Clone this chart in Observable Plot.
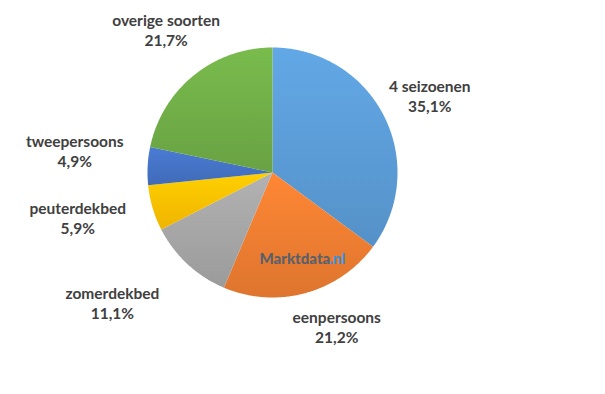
<!DOCTYPE html>
<html><head><meta charset="utf-8">
<script src="https://cdn.jsdelivr.net/npm/d3@7"></script>
<script src="https://cdn.jsdelivr.net/npm/@observablehq/plot@0.6"></script>
<style>
html,body{margin:0;padding:0;background:#fff;}
#chart{width:605px;height:394px;}
</style></head>
<body><div id="chart"></div>
<script>
const categories = ["4 seizoenen","eenpersoons","zomerdekbed","peuterdekbed","tweepersoons","overige soorten"];
const values = [35.1, 21.2, 11.1, 5.9, 4.9, 21.7];
const valueLabels = ["35,1%","21,2%","11,1%","5,9%","4,9%","21,7%"];
const colors = ["#5B9BD5","#ED7D31","#A5A5A5","#FFC000","#4472C4","#70AD47"];

// layout (pixels)
const W = 605, H = 394, cx = 272, cy = 172, R = 125;
const labelRadius = 1.4;
const labelNudge = [[1,2],[18,-15],[-41,2],[-27,-5],[-23,-13],[4,-7]];

const pie = d3.pie().sort(null).value(d => d.value)(categories.map((c,i)=>({category:c,value:values[i],label:valueLabels[i],i})));
const pts = [];
for (const a of pie) {
  const n = Math.max(4, Math.ceil((a.endAngle - a.startAngle) / (Math.PI/360)));
  pts.push({category:a.data.category, x:0, y:0});
  for (let k=0;k<=n;k++){
    const t = a.startAngle + (a.endAngle-a.startAngle)*k/n;
    pts.push({category:a.data.category, x:Math.sin(t), y:Math.cos(t)});
  }
  pts.push({category:a.data.category, x:0, y:0});
}
const labels = pie.map(a => {
  const m = (a.startAngle + a.endAngle)/2;
  const [nx, ny] = labelNudge[a.data.i];
  return {text: a.data.category + "\n" + a.data.label,
          x: Math.sin(m)*labelRadius + nx/R,
          y: Math.cos(m)*labelRadius - ny/R};
});
const gradIds = colors.map((c,i)=>`url(#sliceGrad${i})`);

const plot = Plot.plot({
  width: W, height: H, margin: 0,
  x: {domain:[-1,1], range:[cx-R, cx+R], axis:null},
  y: {domain:[-1,1], range:[cy+R, cy-R], axis:null},
  color: {type:"ordinal", domain: categories, range: gradIds},
  style: {background:"#fff"},
  marks: [
    Plot.line(pts, {x:"x", y:"y", z:"category", fill:"category", stroke:null, curve:"linear"}),
    Plot.text(labels, {x:"x", y:"y", text:"text", lineHeight:1.3, fill:"#404040",
      fontFamily:"Lato", fontWeight:"bold", fontSize:15.5}),
    Plot.text(["Marktdata"], {frameAnchor:"top-left", dx:259, dy:253, text:d=>d, textAnchor:"start",
      fill:"#58616b", fontFamily:"Lato", fontWeight:"900", fontSize:15}),
    Plot.text([".nl"], {frameAnchor:"top-left", dx:329, dy:253, text:d=>d, textAnchor:"start",
      fill:"#3d8fd6", fontFamily:"Lato", fontWeight:"900", fontSize:15})
  ]
});
const svgNS = "http://www.w3.org/2000/svg";
const defs = document.createElementNS(svgNS, "defs");
colors.forEach((c,i)=>{
  const g = document.createElementNS(svgNS, "linearGradient");
  g.setAttribute("id", `sliceGrad${i}`);
  g.setAttribute("x1","0"); g.setAttribute("y1","0"); g.setAttribute("x2","0"); g.setAttribute("y2","1");
  [[0, d3.color(c).brighter(0.22)],[1, d3.color(c).darker(0.18)]].forEach(([o,col])=>{
    const s = document.createElementNS(svgNS,"stop");
    s.setAttribute("offset", o); s.setAttribute("stop-color", col.formatHex());
    g.appendChild(s);
  });
  defs.appendChild(g);
});
plot.insertBefore(defs, plot.firstChild);
document.getElementById("chart").appendChild(plot);
</script></body></html>
